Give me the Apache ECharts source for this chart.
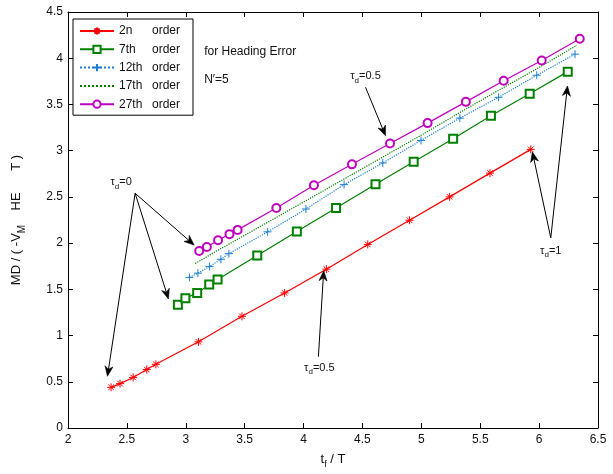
<!DOCTYPE html>
<html>
<head>
<meta charset="utf-8">
<script src="https://cdn.jsdelivr.net/npm/echarts@6/dist/echarts.min.js"></script>
<style>
  html, body { margin: 0; padding: 0; background: #fff; }
  #chart { width: 613px; height: 474px; }
</style>
</head>
<body>
<div id="chart"></div>
<script>
// Miss distance (normalised) versus flight time for several autopilot orders
const seriesNames = ['2n', '7th', '12th', '17th', '27th'];

const tf2 = [2.366, 2.442, 2.553, 2.669, 2.746, 3.108, 3.477, 3.839, 4.194, 4.545, 4.900, 5.240, 5.583, 5.929];
const md2 = [0.44, 0.48, 0.547, 0.632, 0.689, 0.932, 1.208, 1.461, 1.718, 1.986, 2.247, 2.500, 2.757, 3.014];

const tf7 = [2.933, 2.997, 3.097, 3.199, 3.270, 3.607, 3.943, 4.276, 4.611, 4.935, 5.270, 5.591, 5.920, 6.243];
const md7 = [1.332, 1.404, 1.461, 1.551, 1.607, 1.865, 2.125, 2.379, 2.636, 2.881, 3.130, 3.377, 3.616, 3.855];

const tf12 = [3.031, 3.103, 3.202, 3.298, 3.366, 3.695, 4.020, 4.344, 4.673, 4.997, 5.327, 5.656, 5.980, 6.305];
const md12 = [1.629, 1.675, 1.747, 1.825, 1.886, 2.122, 2.369, 2.633, 2.867, 3.111, 3.352, 3.577, 3.816, 4.044];

const tf17 = [3.08, 3.15, 3.24, 3.34, 3.41, 3.73, 4.05, 4.38, 4.70, 5.03, 5.35, 5.68, 6.00, 6.32];
const md17 = [1.78, 1.83, 1.90, 1.97, 2.02, 2.25, 2.48, 2.72, 2.95, 3.19, 3.43, 3.67, 3.90, 4.14];

const tf27 = [3.114, 3.179, 3.274, 3.371, 3.440, 3.769, 4.088, 4.411, 4.734, 5.053, 5.378, 5.699, 6.022, 6.345];
const md27 = [1.915, 1.958, 2.031, 2.097, 2.143, 2.379, 2.625, 2.852, 3.077, 3.298, 3.528, 3.757, 3.975, 4.211];

// Arrow annotations, given in data units: [from, to]
const arrows = [
  [[2.570, 2.539], [3.071, 1.979]],
  [[2.570, 2.539], [2.853, 1.396]],
  [[2.570, 2.539], [2.335, 0.560]],
  [[4.526, 3.686], [4.696, 3.161]],
  [[4.126, 0.771], [4.171, 1.700]],
  [[6.099, 2.057], [5.943, 2.986]],
  [[6.099, 2.057], [6.241, 3.700]]
];
// τd labels: [x, y, value]
const tauLabels = [
  [2.451, 2.657, '0'],
  [4.526, 3.804, '0.5'],
  [4.134, 0.654, '0.5'],
  [6.099, 1.918, '1']
];
const noteLines = ['for Heading Error', 'N\u2032=5'];
const noteAnchors = [[3.156, 4.072], [3.156, 3.772]];

const FONT = "'Liberation Sans', Arial, sans-serif";
const pairs = (xs, ys) => xs.map((x, i) => [x, ys[i]]);
const asterisk = 'path://M0,-1L0,1M-1,0L1,0M-0.7,-0.7L0.7,0.7M-0.7,0.7L0.7,-0.7';
const plus = 'path://M0,-1L0,1M-1,0L1,0';
const CLEAR = 'rgba(0,0,0,0)';

const chart = echarts.init(document.getElementById('chart'), null, { renderer: 'canvas' });

function mkSeries(name, xs, ys, color, lineType, symbol, size, hollow) {
  const noMarker = symbol === null;
  return {
    name: name,
    type: 'line',
    data: pairs(xs, ys),
    xAxisIndex: 0,
    yAxisIndex: 0,
    symbol: noMarker ? 'circle' : symbol,
    symbolSize: noMarker ? 1 : size,
    showSymbol: !noMarker,
    lineStyle: { color: color, width: 1.2, type: lineType },
    itemStyle: noMarker
      ? { color: CLEAR, borderColor: CLEAR, borderWidth: 0 }
      : { color: color, borderColor: color, borderWidth: hollow ? 1.3 : 1 },
    emphasis: { disabled: true },
    animation: false,
    z: 3
  };
}

const axisCommon = {
  type: 'value',
  axisLine: { show: true, onZero: false, lineStyle: { color: '#000', width: 1 } },
  axisTick: { show: true, inside: true, length: 5, lineStyle: { color: '#000' } },
  splitLine: { show: false }
};

const option = {
  backgroundColor: '#fff',
  animation: false,
  textStyle: { fontFamily: FONT },
  grid: { left: 68, right: 15, top: 12, bottom: 42, containLabel: false },
  legend: {
    orient: 'vertical',
    left: 73,
    top: 19,
    padding: [6, 13, 5, 6],
    itemGap: 6.3,
    itemWidth: 34,
    itemHeight: 9,
    borderColor: '#000',
    borderWidth: 1,
    backgroundColor: '#fff',
    data: seriesNames,
    selectedMode: false,
    formatter: n => '{a|' + n + '}{b|order}',
    textStyle: {
      fontFamily: FONT, fontSize: 12, color: '#111',
      rich: { a: { width: 33, fontSize: 12, fontFamily: FONT }, b: { fontSize: 12, fontFamily: FONT } }
    }
  },
  xAxis: [
    Object.assign({}, axisCommon, {
      position: 'bottom', min: 2, max: 6.5, interval: 0.5,
      axisLabel: { color: '#111', fontSize: 12, margin: 6, fontFamily: FONT },
      name: '{a|t}{s|f}{a| / T}',
      nameLocation: 'middle',
      nameGap: 22,
      nameTextStyle: {
        rich: {
          a: { fontSize: 13, color: '#111', fontFamily: FONT },
          s: { fontSize: 9, color: '#111', padding: [10, 0, 0, 0], fontFamily: FONT }
        }
      }
    }),
    Object.assign({}, axisCommon, {
      position: 'top', min: 2, max: 6.5, interval: 0.5,
      axisLabel: { show: false }
    })
  ],
  yAxis: [
    Object.assign({}, axisCommon, {
      position: 'left', min: 0, max: 4.5, interval: 0.5,
      axisLabel: { color: '#111', fontSize: 12, margin: 5, fontFamily: FONT },
      name: '{a|MD / ( -V}{s|M}{a|    HE      T )}',
      nameLocation: 'middle',
      nameGap: 41,
      nameTextStyle: {
        rich: {
          a: { fontSize: 13, color: '#111', fontFamily: FONT },
          s: { fontSize: 10, color: '#111', padding: [11, 0, 0, 0], fontFamily: FONT }
        }
      }
    }),
    Object.assign({}, axisCommon, {
      position: 'right', min: 0, max: 4.5, interval: 0.5,
      axisLabel: { show: false }
    })
  ],
  series: [
    mkSeries('2n', tf2, md2, '#ff0000', 'solid', asterisk, 8, false),
    mkSeries('7th', tf7, md7, '#008000', 'solid', 'emptyRect', 8, true),
    mkSeries('12th', tf12, md12, '#1a7fd4', 'dotted', plus, 8, false),
    mkSeries('17th', tf17, md17, '#008000', 'dotted', null, 0, false),
    mkSeries('27th', tf27, md27, '#bf00bf', 'solid', 'emptyCircle', 8, true)
  ]
};

chart.setOption(option);

// Annotations placed through the cartesian scale
const toPx = p => chart.convertToPixel({ seriesIndex: 0 }, p);
const graphics = [];

arrows.forEach(([from, to]) => {
  const a = toPx(from), b = toPx(to);
  const dx = b[0] - a[0], dy = b[1] - a[1];
  const len = Math.hypot(dx, dy);
  const ux = dx / len, uy = dy / len;
  const head = 10, half = 4;
  const back = [b[0] - ux * head, b[1] - uy * head];
  const notch = [b[0] - ux * head * 0.7, b[1] - uy * head * 0.7];
  graphics.push({
    type: 'line', silent: true, z: 10,
    shape: { x1: a[0], y1: a[1], x2: notch[0], y2: notch[1] },
    style: { stroke: '#000', lineWidth: 1 }
  });
  graphics.push({
    type: 'polygon', silent: true, z: 10,
    shape: { points: [
      b,
      [back[0] - uy * half, back[1] + ux * half],
      notch,
      [back[0] + uy * half, back[1] - ux * half]
    ] },
    style: { fill: '#000', stroke: '#000', lineWidth: 0.6 }
  });
});

tauLabels.forEach(([x, y, v]) => {
  const p = toPx([x, y]);
  graphics.push({
    type: 'text', silent: true, z: 11,
    x: p[0], y: p[1],
    style: {
      text: '{t|\u03c4}{s|d}{t|=' + v + '}',
      align: 'center', verticalAlign: 'middle',
      rich: {
        t: { fontSize: 11, fill: '#111', fontFamily: FONT },
        s: { fontSize: 8, fill: '#111', padding: [8, 0, 0, 0], fontFamily: FONT }
      }
    }
  });
});

noteLines.forEach((txt, i) => {
  const p = toPx(noteAnchors[i]);
  graphics.push({
    type: 'text', silent: true, z: 11,
    x: p[0], y: p[1],
    style: { text: txt, fontSize: 12, fill: '#111', fontFamily: FONT, align: 'left', verticalAlign: 'middle' }
  });
});

chart.setOption({ graphic: graphics });
</script>
</body>
</html>
